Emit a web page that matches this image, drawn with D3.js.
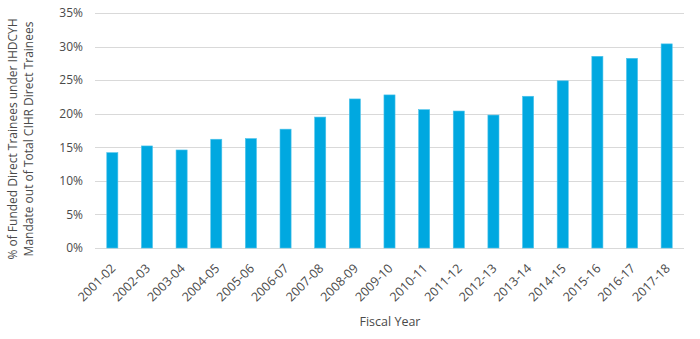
<!DOCTYPE html>
<html><head><meta charset="utf-8">
<script src="https://cdn.jsdelivr.net/npm/d3@7"></script>
<style>body{margin:0;background:#fff;} text{font-family:"Open Sans",sans-serif;}</style>
</head><body><svg id="c" width="700" height="339"></svg>
<script>
const categories = ["2001-02","2002-03","2003-04","2004-05","2005-06","2006-07","2007-08","2008-09","2009-10","2010-11","2011-12","2012-13","2013-14","2014-15","2015-16","2016-17","2017-18"];
const values = [14.2,15.2,14.6,16.2,16.3,17.7,19.5,22.2,22.8,20.6,20.4,19.8,22.6,24.9,28.55,28.25,30.4];
const yTicks = [0,5,10,15,20,25,30,35];

const svg = d3.select("#c");
const m = {l:95, r:16, t:13, b:91};
const W = 700, H = 339;
const textColor = "#4a4a4a";
const x = d3.scaleBand().domain(categories).range([m.l, W-m.r]).paddingInner(0.68).paddingOuter(0.34);
const y = d3.scaleLinear().domain([0,35]).range([H-m.b, m.t]);

svg.append("g").selectAll("line").data(yTicks).join("line")
  .attr("x1", m.l).attr("x2", W-m.r)
  .attr("y1", d=>Math.round(y(d))+0.5).attr("y2", d=>Math.round(y(d))+0.5)
  .attr("stroke", "#d9d9d9").attr("stroke-width", 1);

svg.append("g").selectAll("rect").data(values).join("rect")
  .attr("x", (d,i)=>x(categories[i])).attr("width", x.bandwidth())
  .attr("y", d=>y(d)).attr("height", d=>y(0)-y(d))
  .attr("fill", "#00a8e0").attr("stroke","#4dc3eb").attr("stroke-width",0.6);

const yAxis = svg.append("g").attr("transform", `translate(${m.l},0)`)
  .call(d3.axisLeft(y).tickValues(yTicks).tickFormat(d=>d+"%").tickSize(0).tickPadding(12));
yAxis.select(".domain").remove();
yAxis.selectAll("text").attr("fill",textColor).style("font-size","12px");

const xAxis = svg.append("g").attr("transform", `translate(0,${y(0)})`)
  .call(d3.axisBottom(x).tickSize(0));
xAxis.select(".domain").remove();
xAxis.selectAll("text").attr("fill",textColor).style("font-size","12.5px")
  .attr("text-anchor","end").attr("x",0).attr("y",0).attr("dx",0).attr("dy","0.35em")
  .attr("transform","translate(1,18) rotate(-45)");

svg.append("text").attr("x", 390).attr("y", 326).attr("text-anchor","middle")
  .attr("fill",textColor).style("font-size","12.5px").text("Fiscal Year");

const yl = svg.append("text").attr("transform","translate(17,139) rotate(-90)")
  .attr("text-anchor","middle").attr("fill",textColor).style("font-size","12px");
yl.append("tspan").attr("x",0).attr("dy",0).text("% of Funded Direct Trainees under IHDCYH");
yl.append("tspan").attr("x",0).attr("dy","1.3em").text("Mandate out of Total CIHR Direct Trainees");
</script></body></html>
